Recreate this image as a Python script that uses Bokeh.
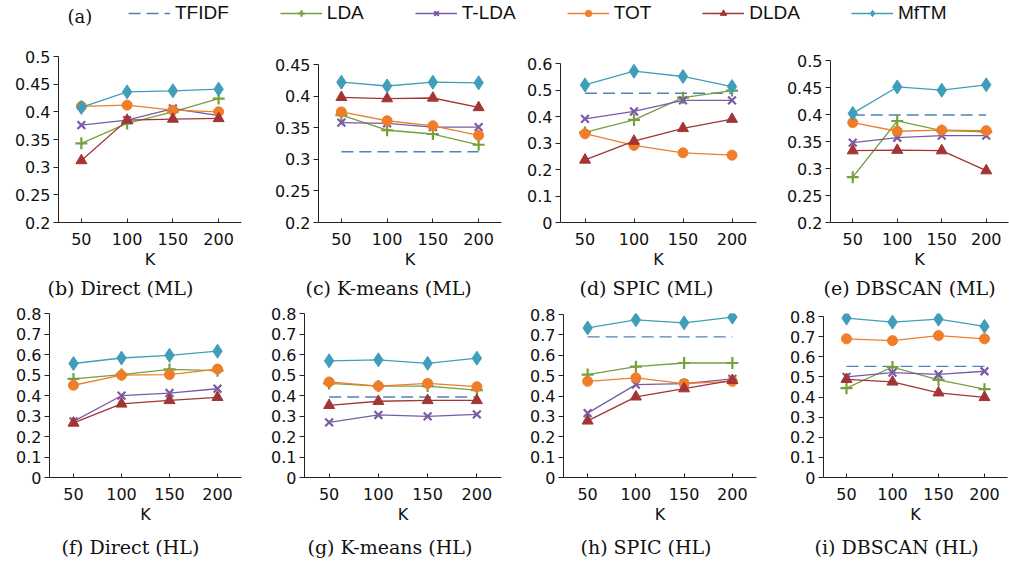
from bokeh.plotting import figure
from bokeh.models import (FactorRange, Range1d, FixedTicker, Legend, LegendItem,
                          Label, CustomJSTickFormatter)
from bokeh.layouts import column, row
from bokeh.embed import file_html
from bokeh.resources import INLINE

# ---------------- data ----------------
K_LABELS = ["50", "100", "150", "200"]
SERIES = ["TFIDF", "LDA", "T-LDA", "TOT", "DLDA", "MfTM"]

YT_ML_A = [0.2, 0.25, 0.3, 0.35, 0.4, 0.45, 0.5]
YT_ML_B = [0.2, 0.25, 0.3, 0.35, 0.4, 0.45]
YT_ML_C = [0, 0.1, 0.2, 0.3, 0.4, 0.5, 0.6]
YT_HL = [0, 0.1, 0.2, 0.3, 0.4, 0.5, 0.6, 0.7, 0.8]

# (b) Direct (ML)
b_tfidf = None
b_lda = [0.343, 0.379, 0.400, 0.424]
b_tlda = [0.376, 0.385, 0.406, 0.393]
b_tot = [0.410, 0.412, 0.403, 0.400]
b_dlda = [0.312, 0.385, 0.387, 0.388]
b_mftm = [0.408, 0.436, 0.438, 0.441]

# (c) K-means (ML)
c_tfidf = [0.312, 0.312, 0.312, 0.312]
c_lda = [0.370, 0.346, 0.340, 0.323]
c_tlda = [0.358, 0.357, 0.351, 0.351]
c_tot = [0.375, 0.361, 0.353, 0.338]
c_dlda = [0.398, 0.396, 0.397, 0.382]
c_mftm = [0.422, 0.416, 0.422, 0.421]

# (d) SPIC (ML)
d_tfidf = [0.488, 0.488, 0.488, 0.488]
d_lda = [0.340, 0.387, 0.471, 0.498]
d_tlda = [0.391, 0.419, 0.461, 0.461]
d_tot = [0.335, 0.291, 0.263, 0.254]
d_dlda = [0.236, 0.307, 0.355, 0.390]
d_mftm = [0.519, 0.571, 0.551, 0.513]

# (e) DBSCAN (ML)
e_tfidf = [0.399, 0.399, 0.399, 0.399]
e_lda = [0.284, 0.388, 0.370, 0.368]
e_tlda = [0.348, 0.357, 0.361, 0.361]
e_tot = [0.385, 0.369, 0.371, 0.370]
e_dlda = [0.333, 0.334, 0.333, 0.296]
e_mftm = [0.402, 0.451, 0.445, 0.455]

# (f) Direct (HL)
f_tfidf = None
f_lda = [0.481, 0.502, 0.527, 0.521]
f_tlda = [0.274, 0.399, 0.412, 0.433]
f_tot = [0.450, 0.499, 0.502, 0.529]
f_dlda = [0.266, 0.359, 0.376, 0.391]
f_mftm = [0.556, 0.583, 0.596, 0.616]

# (g) K-means (HL)
g_tfidf = [0.393, 0.393, 0.393, 0.393]
g_lda = [0.459, 0.446, 0.446, 0.426]
g_tlda = [0.269, 0.305, 0.298, 0.308]
g_tot = [0.466, 0.446, 0.459, 0.443]
g_dlda = [0.352, 0.372, 0.376, 0.376]
g_mftm = [0.569, 0.574, 0.557, 0.582]

# (h) SPIC (HL)
h_tfidf = [0.690, 0.690, 0.690, 0.690]
h_lda = [0.505, 0.544, 0.562, 0.562]
h_tlda = [0.316, 0.456, 0.461, 0.484]
h_tot = [0.472, 0.489, 0.461, 0.472]
h_dlda = [0.278, 0.396, 0.436, 0.477]
h_mftm = [0.734, 0.774, 0.759, 0.787]

# (i) DBSCAN (HL)
i_tfidf = [0.552, 0.552, 0.552, 0.552]
i_lda = [0.444, 0.549, 0.485, 0.439]
i_tlda = [0.500, 0.521, 0.512, 0.528]
i_tot = [0.689, 0.680, 0.705, 0.689]
i_dlda = [0.488, 0.475, 0.421, 0.398]
i_mftm = [0.792, 0.772, 0.787, 0.751]

TITLES = ["(b) Direct (ML)", "(c) K-means (ML)", "(d) SPIC (ML)", "(e) DBSCAN (ML)",
          "(f) Direct (HL)", "(g) K-means (HL)", "(h) SPIC (HL)", "(i) DBSCAN (HL)"]

# ---------------- styles ----------------
COLORS = {"TFIDF": "#4F81BD", "LDA": "#76A03C", "T-LDA": "#7A5BA6",
          "TOT": "#F07D2A", "DLDA": "#A23535", "MfTM": "#3F9EBA"}
MARKERS = {"LDA": ("cross", 12), "T-LDA": ("x", 11), "TOT": ("circle", 10),
           "DLDA": ("triangle", 11), "MfTM": ("diamond", 14)}
SANS = "DejaVu Sans"
SERIF = "DejaVu Serif"

# rows: (top border, frame height, bottom border, title standoff)
ROW_GEOM = [(20, 166, 78, 6), (12, 164, 84, 14)]
# panels: left border, frame width, right border, top-tick pixel inset, title offset
GEOM = [
    (58, 183, 5, 0, -11),
    (72, 183, 2, 8, -13),
    (57, 196, 2, 7, 19),
    (72, 178, 2, 4, -7),
    (49, 192, 9, 0, 12),
    (54, 197, 3, 0, 3),
    (59, 193, 2, 1, 17),
    (65, 184, 1, 3, -9),
]

PANELS = [
    (YT_ML_A, [b_tfidf, b_lda, b_tlda, b_tot, b_dlda, b_mftm]),
    (YT_ML_B, [c_tfidf, c_lda, c_tlda, c_tot, c_dlda, c_mftm]),
    (YT_ML_C, [d_tfidf, d_lda, d_tlda, d_tot, d_dlda, d_mftm]),
    (YT_ML_A, [e_tfidf, e_lda, e_tlda, e_tot, e_dlda, e_mftm]),
    (YT_HL, [f_tfidf, f_lda, f_tlda, f_tot, f_dlda, f_mftm]),
    (YT_HL, [g_tfidf, g_lda, g_tlda, g_tot, g_dlda, g_mftm]),
    (YT_HL, [h_tfidf, h_lda, h_tlda, h_tot, h_dlda, h_mftm]),
    (YT_HL, [i_tfidf, i_lda, i_tlda, i_tot, i_dlda, i_mftm]),
]


def draw_series(p, name, xs, ys):
    col = COLORS[name]
    rs = []
    if name == "TFIDF":
        rs.append(p.line(xs, ys, line_color=col, line_width=1.4, line_dash="12 6"))
        return rs
    rs.append(p.line(xs, ys, line_color=col, line_width=1.3))
    mk, sz = MARKERS[name]
    if mk in ("cross", "x"):
        rs.append(p.scatter(xs, ys, marker=mk, size=sz, line_color=col, line_width=2.2))
    else:
        rs.append(p.scatter(xs, ys, marker=mk, size=sz, fill_color=col, line_color=col))
    return rs


def make_panel(title, yticks, series_vals, geom, rgeom):
    left, fw, right, inset, toff = geom
    top, fh, bottom, tstand = rgeom
    ymin, ymax = yticks[0], yticks[-1]
    yend = ymax + inset * (ymax - ymin) / (fh - inset)
    p = figure(x_range=FactorRange(*K_LABELS), y_range=Range1d(ymin, yend),
               frame_width=fw, frame_height=fh,
               min_border_left=left, min_border_right=right,
               min_border_top=top, min_border_bottom=bottom,
               output_backend="svg", toolbar_location=None,
               title=title, title_location="below")
    p.outline_line_color = None
    p.grid.visible = False
    for name, vals in zip(SERIES, series_vals):
        if vals is None:
            continue
        draw_series(p, name, K_LABELS, vals)
    xa = p.xaxis[0]
    xa.axis_label = "K"
    xa.axis_label_text_font = SANS
    xa.axis_label_text_font_size = "16px"
    xa.axis_label_text_font_style = "normal"
    xa.axis_label_text_color = "#111111"
    xa.axis_label_standoff = 2
    xa.major_label_text_font = SANS
    xa.major_label_text_font_size = "16px"
    xa.major_label_text_color = "#111111"
    xa.major_label_standoff = 10
    xa.major_tick_in = 4
    xa.major_tick_out = 0
    xa.axis_line_color = "#222222"
    xa.major_tick_line_color = "#222222"
    ya = p.yaxis[0]
    ya.ticker = FixedTicker(ticks=yticks)
    ya.bounds = (ymin, ymax)
    ya.formatter = CustomJSTickFormatter(code="return String(tick)")
    ya.major_label_text_font = SANS
    ya.major_label_text_font_size = "16px"
    ya.major_label_text_color = "#111111"
    ya.major_label_standoff = 3
    ya.major_tick_in = 0
    ya.major_tick_out = 5
    ya.minor_tick_line_color = None
    ya.axis_line_color = "#222222"
    ya.major_tick_line_color = "#222222"
    p.title.text_font = SERIF
    p.title.text_font_size = "19px"
    p.title.text_font_style = "normal"
    p.title.text_color = "#111111"
    p.title.align = "left"
    p.title.offset = toff
    p.title.standoff = tstand
    return p


panels = [make_panel(TITLES[k], PANELS[k][0], PANELS[k][1], GEOM[k], ROW_GEOM[k // 4])
          for k in range(8)]

# legend strip (its sample renderers sit outside the visible y range)
lg = figure(frame_width=1008, frame_height=36, min_border=0,
            x_range=FactorRange(*K_LABELS), y_range=Range1d(10, 11),
            x_axis_type=None, y_axis_type=None,
            output_backend="svg", toolbar_location=None)
lg.outline_line_color = None
lg.grid.visible = False
items = []
for name, vals in zip(SERIES, PANELS[1][1]):
    rs = draw_series(lg, name, K_LABELS, vals)
    items.append(LegendItem(label=name, renderers=rs))
legend = Legend(items=items, orientation="horizontal", location=(128, 12),
                glyph_width=42, glyph_height=16, label_height=16,
                label_standoff=5, spacing=51, padding=0, margin=0,
                border_line_color=None, background_fill_alpha=0,
                label_text_font="Liberation Sans", label_text_font_size="19px",
                label_text_color="#111111")
lg.add_layout(legend, "center")
lg.add_layout(Label(x=67, y=20, x_units="screen", y_units="screen", text="(a)",
                    text_font=SERIF, text_font_size="18px", text_baseline="middle",
                    text_color="#111111"))

layout = column(lg, row(*panels[:4]), row(*panels[4:]))
open("out.html", "w").write(file_html(layout, INLINE))
